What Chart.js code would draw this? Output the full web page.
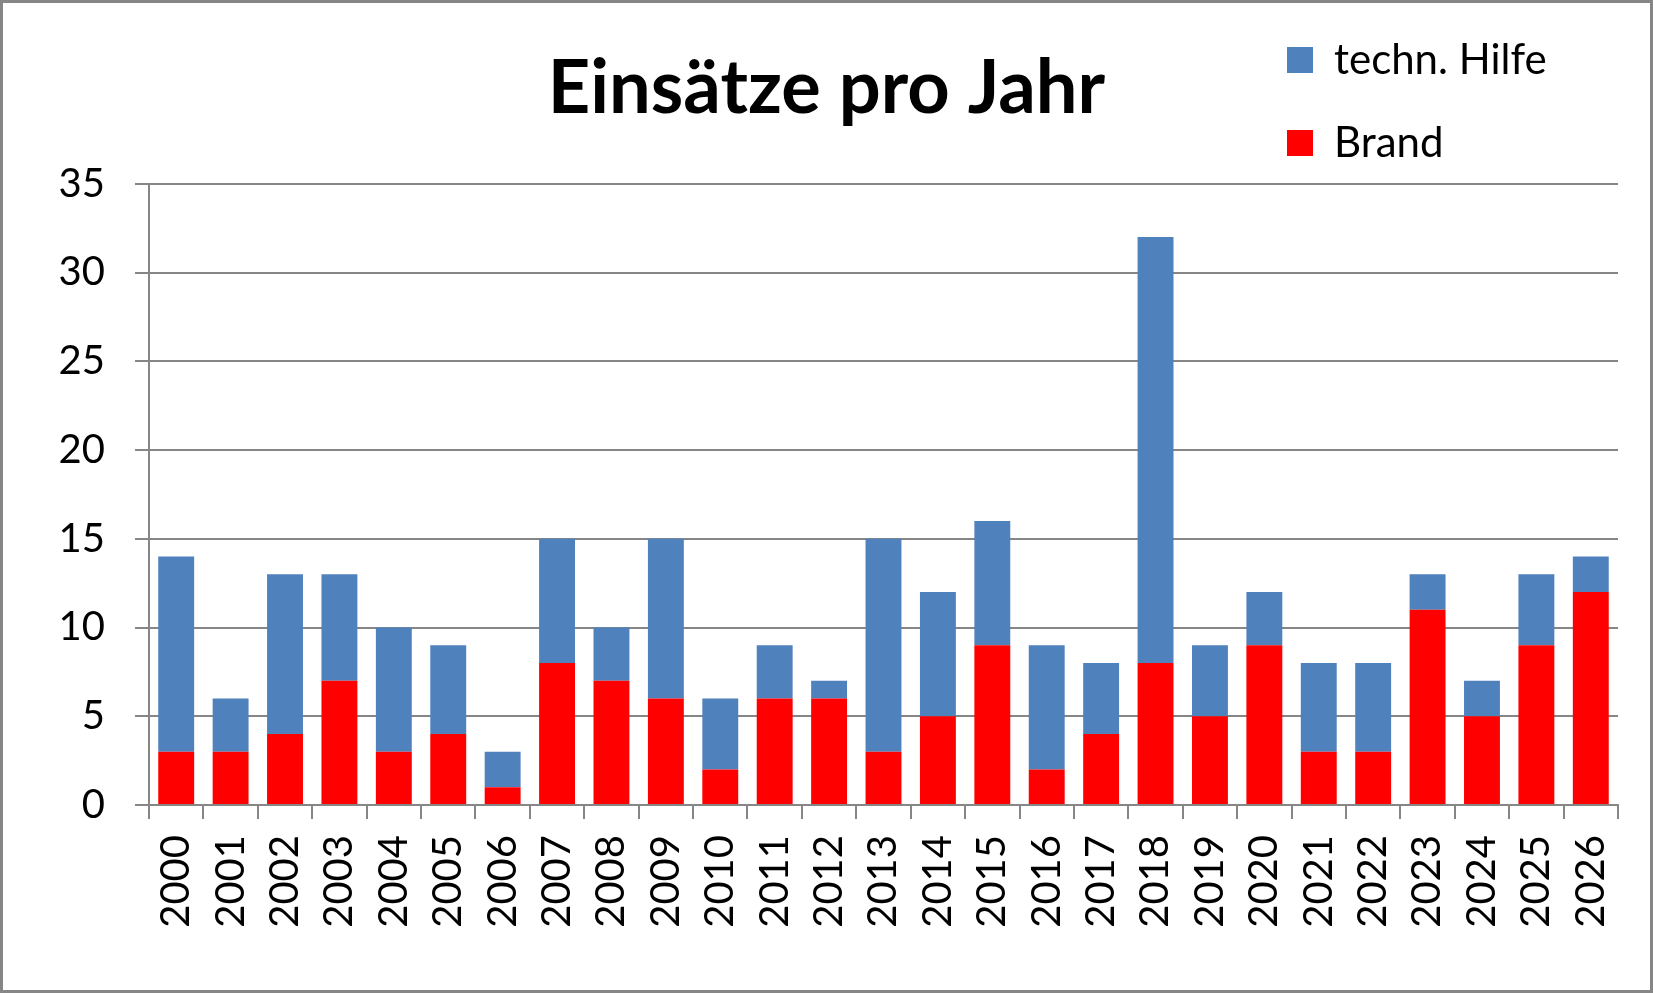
<!DOCTYPE html>
<html lang="de">

<head>
    <meta charset="UTF-8">
    <title>Einsätze pro Jahr</title>
    <script src="https://cdn.jsdelivr.net/npm/chart.js@4.4.1/dist/chart.umd.min.js"></script>
    <style>
        body { margin: 0; background: #fff; }
        #box {
            width: 1653px; height: 993px;
            border: 3px solid #868686;
            box-sizing: border-box;
            position: relative;
        }
    </style>
</head>

<body>
    <div id="box"><canvas id="chart"></canvas></div>
    <script>
        const years = ['2000', '2001', '2002', '2003', '2004', '2005', '2006', '2007', '2008', '2009',
            '2010', '2011', '2012', '2013', '2014', '2015', '2016', '2017', '2018', '2019',
            '2020', '2021', '2022', '2023', '2024', '2025', '2026'];
        const brand = [3, 3, 4, 7, 3, 4, 1, 8, 7, 6, 2, 6, 6, 3, 5, 9, 2, 4, 8, 5, 9, 3, 3, 11, 5, 9, 12];
        const hilfe = [11, 3, 9, 6, 7, 5, 2, 7, 3, 9, 4, 3, 1, 12, 7, 7, 7, 4, 24, 4, 3, 5, 5, 2, 2, 4, 2];

        const grey = '#868686';

        // put the legend top right, above the plot, items stacked
        const legendPlace = {
            id: 'legendPlace',
            afterLayout(chart) {
                const lg = chart.legend;
                const w = lg.width, h = lg.height;
                lg.left = 1243;
                lg.top = -5;
                lg.right = lg.left + w;
                lg.bottom = lg.top + h;
            }
        };

        drawChart();

        async function drawChart() {
            try { await document.fonts.load('bold 74px Lato'); await document.fonts.load('40px Lato'); } catch (e) {}
            const ctx = document.getElementById('chart').getContext('2d');
            new Chart(ctx, {
                type: 'bar',
                data: {
                    labels: years,
                    datasets: [{
                        label: 'Brand',
                        data: brand,
                        backgroundColor: '#FF0000'
                    }, {
                        label: 'techn. Hilfe',
                        data: hilfe,
                        backgroundColor: '#4F81BD'
                    }]
                },
                options: {
                    responsive: true,
                    maintainAspectRatio: false,
                    animation: false,
                    events: [],
                    datasets: { bar: { categoryPercentage: 1, barPercentage: 0.66 } },
                    layout: { padding: 0 },
                    plugins: {
                        title: {
                            display: true,
                            text: 'Einsätze pro Jahr',
                            color: '#000',
                            font: { family: 'Lato', size: 74, weight: 'bold' },
                            padding: { top: 42, bottom: 50 }
                        },
                        legend: {
                            position: 'chartArea',
                            align: 'start',
                            reverse: true,
                            labels: {
                                color: '#000',
                                font: { family: 'Lato', size: 42 },
                                boxWidth: 26,
                                boxHeight: 26,
                                padding: 41
                            }
                        },
                        tooltip: { enabled: false }
                    },
                    scales: {
                        x: {
                            stacked: true,
                            grid: { display: true, drawOnChartArea: false, color: grey, lineWidth: 2, tickLength: 14 },
                            border: { color: grey, width: 2 },
                            ticks: {
                                color: '#000',
                                font: { family: 'Lato', size: 40 },
                                minRotation: 90, maxRotation: 90,
                                autoSkip: false,
                                padding: 16
                            },
                            afterFit(scale) {
                                scale.height = 185;
                                scale.paddingLeft = 0;
                                scale.paddingRight = 0;
                            }
                        },
                        y: {
                            stacked: true,
                            min: 0, max: 35,
                            grid: { color: grey, lineWidth: 2, tickLength: 14 },
                            border: { color: grey, width: 2 },
                            ticks: {
                                stepSize: 5,
                                color: '#000',
                                font: { family: 'Lato', size: 40 },
                                padding: 30
                            },
                            afterFit(scale) { scale.width = 146; }
                        },
                        // empty strip on the right so the title stays centred on the whole canvas
                        gap: {
                            position: 'right',
                            grid: { display: false },
                            border: { display: false },
                            ticks: { display: false },
                            afterFit(scale) { scale.width = 32; }
                        }
                    }
                },
                plugins: [legendPlace]
            });
        }
    </script>
</body>

</html>
